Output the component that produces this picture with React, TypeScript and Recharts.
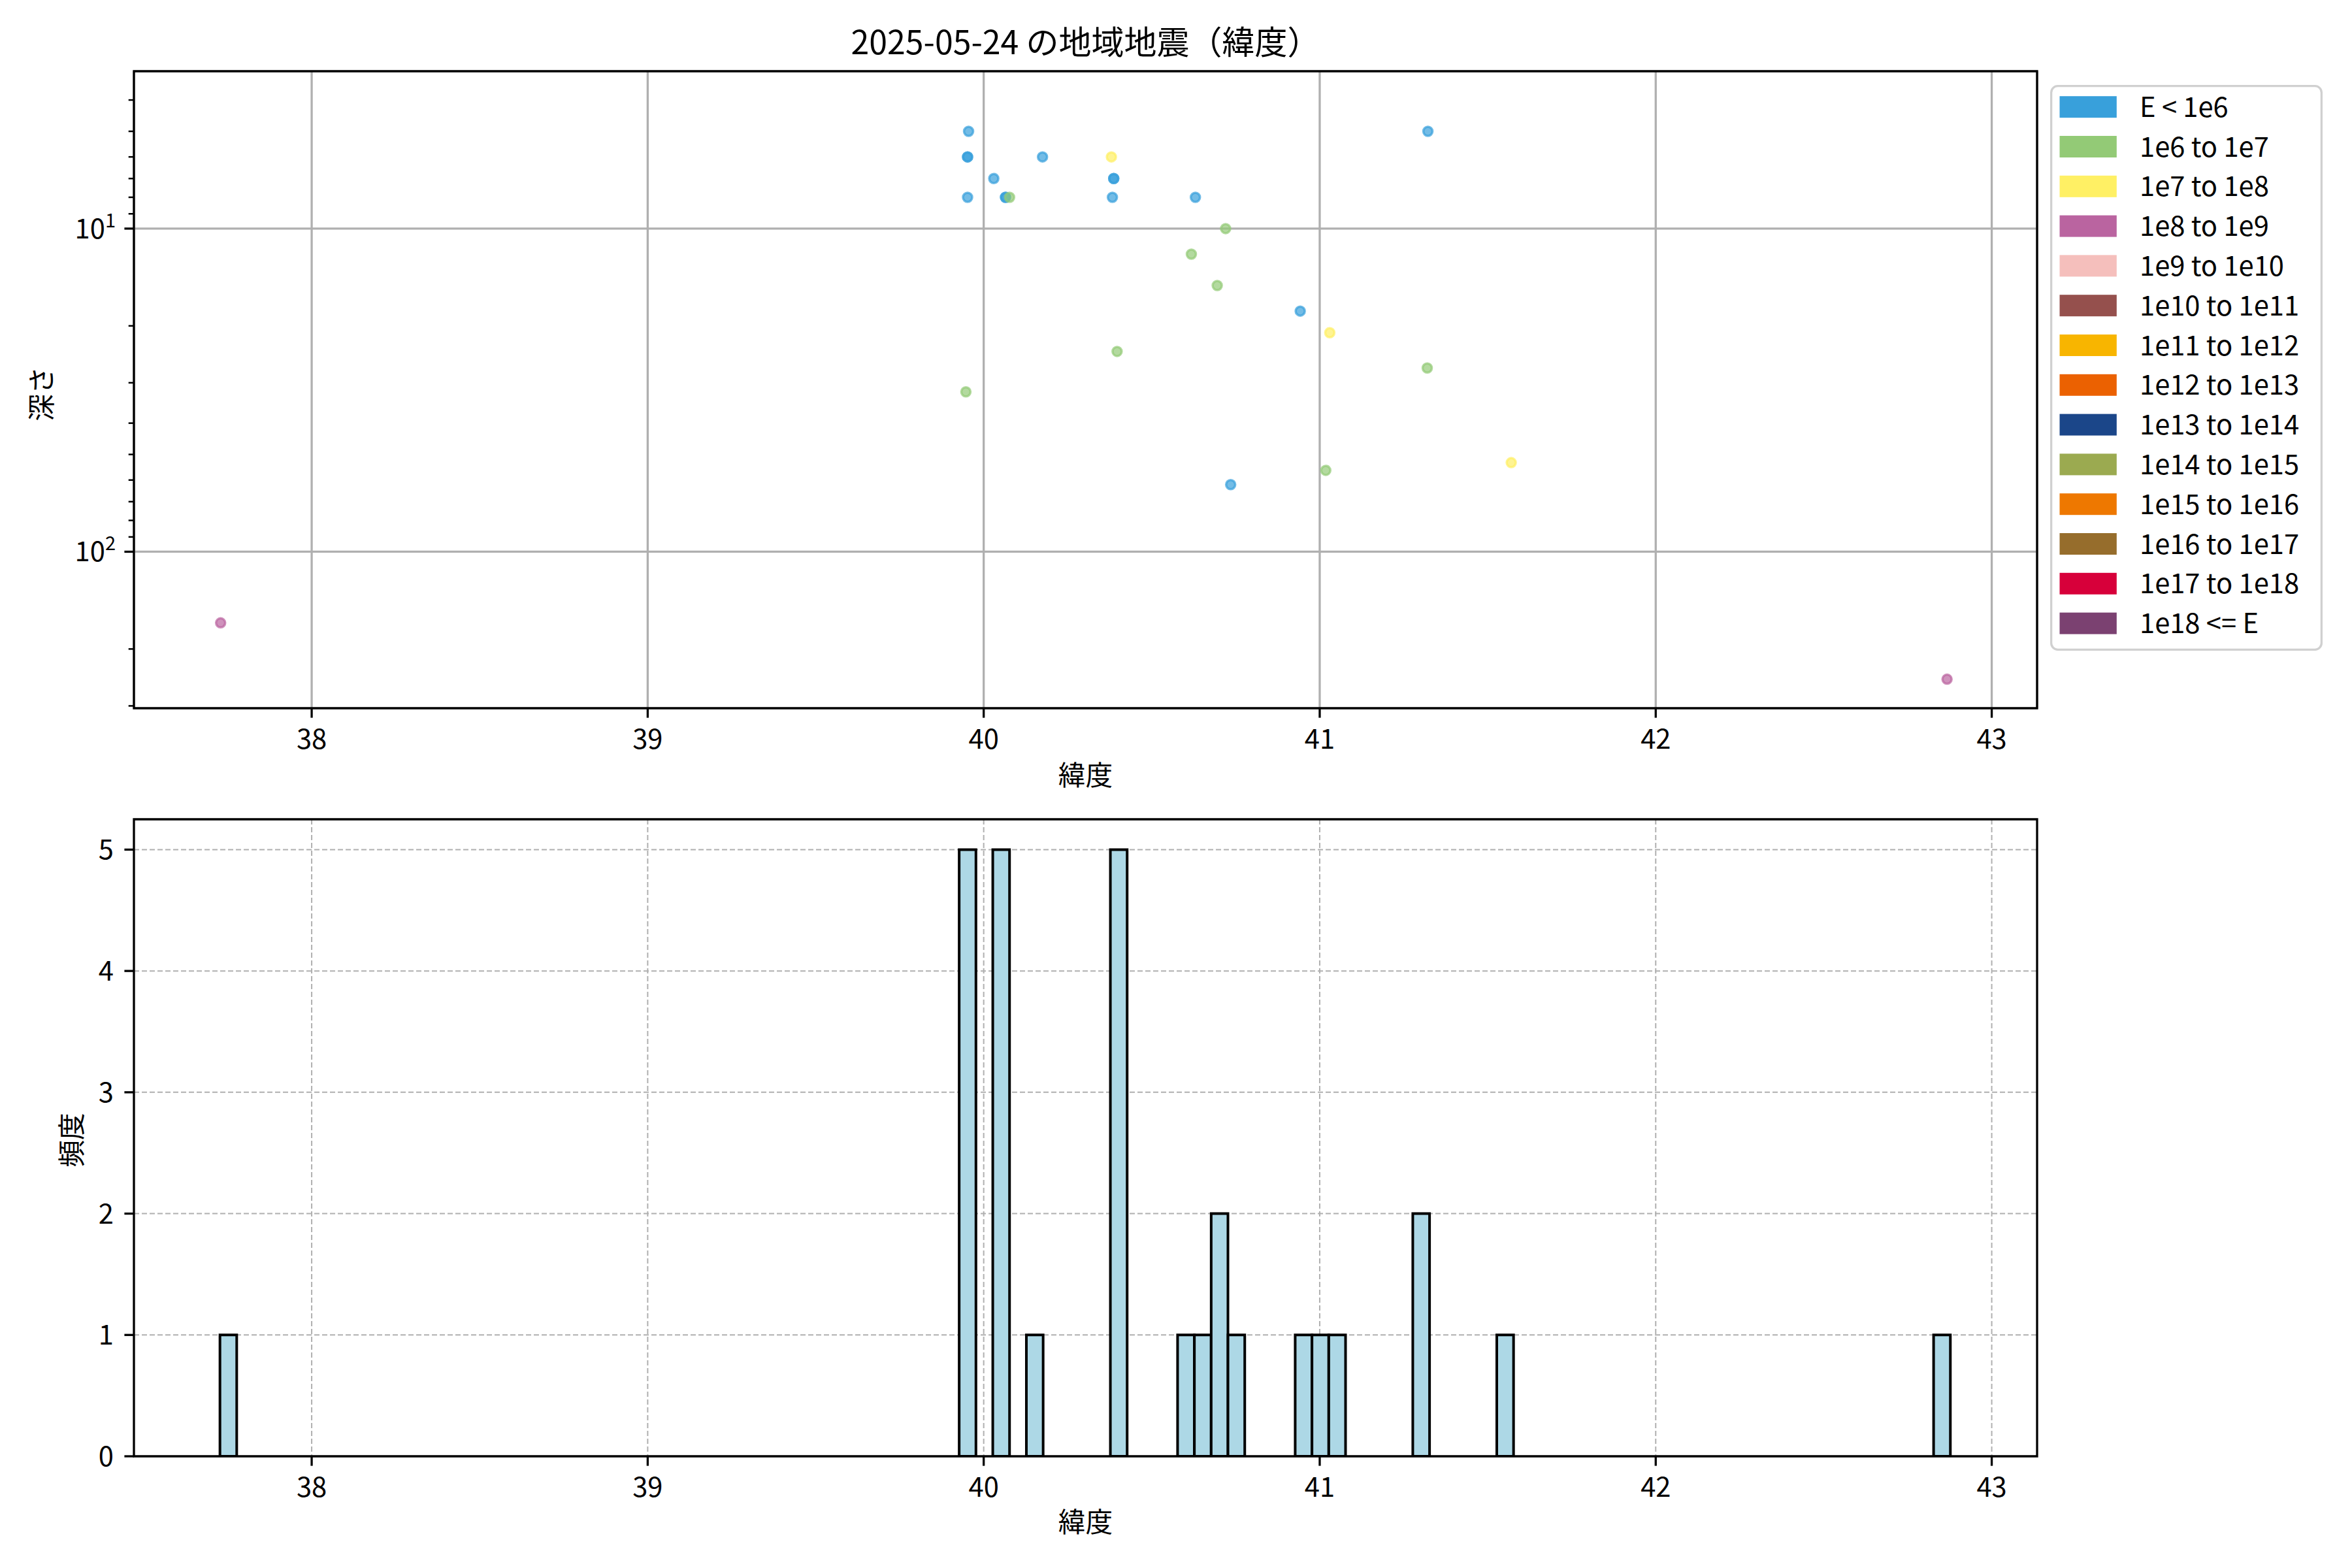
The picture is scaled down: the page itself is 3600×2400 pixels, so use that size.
import {
  Bar,
  BarChart,
  CartesianGrid,
  Legend,
  ReferenceArea,
  Scatter,
  ScatterChart,
  XAxis,
  YAxis,
} from 'recharts'

// エネルギー階級（凡例）
const ENERGY_CLASSES = [
  'E < 1e6',
  '1e6 to 1e7',
  '1e7 to 1e8',
  '1e8 to 1e9',
  '1e9 to 1e10',
  '1e10 to 1e11',
  '1e11 to 1e12',
  '1e12 to 1e13',
  '1e13 to 1e14',
  '1e14 to 1e15',
  '1e15 to 1e16',
  '1e16 to 1e17',
  '1e17 to 1e18',
  '1e18 <= E',
]
const ENERGY_COLORS = [
  '#38a0db',
  '#93ca76',
  '#fff064',
  '#ba64a0',
  '#f5bfbc',
  '#95504d',
  '#f8b500',
  '#eb6101',
  '#1b4689',
  '#9baa50',
  '#ee7800',
  '#966d2c',
  '#d7003a',
  '#7b4171',
]

// 地震ごとの緯度・深さ・エネルギー階級（ENERGY_CLASSES の添字）
const QUAKE_LAT = [
  39.955, 39.952, 39.952, 39.952, 40.03, 40.065, 40.065, 40.175, 40.387, 40.387, 40.383, 40.63, 40.942, 41.322, 40.735,
  40.38, 41.03, 41.57,
  40.077, 40.72, 40.618, 40.695, 40.397, 41.32, 39.947, 41.018,
  37.729, 42.867,
]
const QUAKE_DEPTH = [
  5, 6, 6, 8, 7, 8, 8, 6, 7, 7, 8, 8, 18, 5, 62,
  6, 21, 53,
  8, 10, 12, 15, 24, 27, 32, 56,
  166, 248,
]
const QUAKE_CLASS = [
  0, 0, 0, 0, 0, 0, 0, 0, 0, 0, 0, 0, 0, 0, 0,
  2, 2, 2,
  1, 1, 1, 1, 1, 1, 1, 1,
  3, 3,
]

// 緯度ヒストグラム（幅 0.05 のビン、空でないものだけ）
const HIST_BIN_START = 37.727
const HIST_BIN_WIDTH = 0.05
const HIST_BIN = [0, 44, 46, 48, 53, 57, 58, 59, 60, 64, 65, 66, 71, 76, 102]
const HIST_COUNT = [1, 5, 5, 1, 5, 1, 1, 2, 1, 1, 1, 1, 2, 1, 1]

const LAT_DOMAIN: [number, number] = [37.471, 43.135]
const LAT_TICKS = [38, 39, 40, 41, 42, 43]
const DEPTH_DOMAIN: [number, number] = [3.258, 305]
const DEPTH_TICKS = [4, 5, 6, 7, 8, 9, 10, 20, 30, 40, 50, 60, 70, 80, 90, 100, 200, 300]
const DEPTH_MAJOR = [10, 100]
const COUNT_DOMAIN: [number, number] = [0, 5.25]
const COUNT_TICKS = [0, 1, 2, 3, 4, 5]

const FONT = '"Noto Sans CJK JP", "Noto Sans", sans-serif'
const W = 3600
const PANEL_H = 1200
const TOP_H = 1260
const PLOT_LEFT = 205
const PLOT_RIGHT = 3118
const PLOT_H = 975
const AXIS_H = 116
const TICK_FONT = 41.7
const TICK_LEN = 14.6
const MINOR_LEN = 8.3
const LINE_W = 3.3
const GRID = '#b0b0b0'

const byClass = ENERGY_CLASSES.map((_, c) =>
  QUAKE_LAT.map((lat, i) => ({ lat, depth: QUAKE_DEPTH[i], c: QUAKE_CLASS[i] })).filter((p) => p.c === c),
)

const histData = HIST_BIN.map((b, i) => ({
  center: HIST_BIN_START + (b + 0.5) * HIST_BIN_WIDTH,
  count: HIST_COUNT[i],
}))

const barPx = (HIST_BIN_WIDTH * (PLOT_RIGHT - PLOT_LEFT)) / (LAT_DOMAIN[1] - LAT_DOMAIN[0]) - 0.05

function LatTick({ x, y, payload }: any) {
  return (
    <g>
      <line x1={x} x2={x} y1={y} y2={y + TICK_LEN} stroke="#000" strokeWidth={LINE_W} />
      <text x={x} y={y + 62} textAnchor="middle" fontSize={TICK_FONT} fill="#000">
        {payload.value}
      </text>
    </g>
  )
}

function DepthTick({ x, y, payload }: any) {
  const v = payload.value
  const major = DEPTH_MAJOR.includes(v)
  return (
    <g>
      <line
        x1={x}
        x2={x - (major ? TICK_LEN : MINOR_LEN)}
        y1={y}
        y2={y}
        stroke="#000"
        strokeWidth={major ? LINE_W : 2.5}
      />
      {major && (
        <text x={x - 28} y={y + 15} textAnchor="end" fontSize={TICK_FONT} fill="#000">
          10
          <tspan dy={-17} fontSize={29}>
            {Math.round(Math.log10(v))}
          </tspan>
        </text>
      )}
    </g>
  )
}

function CountTick({ x, y, payload }: any) {
  return (
    <g>
      <line x1={x} x2={x - TICK_LEN} y1={y} y2={y} stroke="#000" strokeWidth={LINE_W} />
      <text x={x - 31} y={y + 15} textAnchor="end" fontSize={TICK_FONT} fill="#000">
        {payload.value}
      </text>
    </g>
  )
}

function EnergyLegend() {
  const rowH = 60.8
  return (
    <svg width={417} height={866} style={{ display: 'block' }}>
      <rect x={1.65} y={1.65} width={413.7} height={862.7} rx={10} fill="#fff" fillOpacity={0.8} stroke="#d0d0d0" strokeWidth={3.3} />
      {ENERGY_CLASSES.map((name, i) => {
        const cy = 33.7 + i * rowH
        return (
          <g key={name}>
            <rect x={14.5} y={cy - 16.5} width={87.3} height={33} fill={ENERGY_COLORS[i]} />
            <text x={137} y={cy + 15} fontSize={TICK_FONT} fill="#000">
              {name}
            </text>
          </g>
        )
      })}
    </svg>
  )
}

export default function App() {
  const plotCenter = (PLOT_LEFT + PLOT_RIGHT) / 2
  return (
    <div
      style={{
        position: 'absolute',
        left: 0,
        top: 0,
        width: W,
        height: 2400,
        background: '#fff',
        fontFamily: FONT,
      }}
    >
      <div style={{ position: 'absolute', left: 0, top: 0 }}>
        <ScatterChart
          width={W}
          height={TOP_H}
          margin={{ top: 109, right: W - PLOT_RIGHT, bottom: TOP_H - 109 - PLOT_H - AXIS_H, left: 0 }}
        >
          {byClass.map((pts, c) => (
            <Scatter
              key={ENERGY_CLASSES[c]}
              name={ENERGY_CLASSES[c]}
              data={pts}
              fill={ENERGY_COLORS[c]}
              isAnimationActive={false}
              shape={(p: any) => (
                <circle
                  cx={p.cx}
                  cy={p.cy}
                  r={7}
                  fill={ENERGY_COLORS[c]}
                  fillOpacity={0.7}
                  stroke={ENERGY_COLORS[c]}
                  strokeOpacity={0.7}
                  strokeWidth={3.5}
                />
              )}
            />
          ))}
          <CartesianGrid stroke={GRID} strokeWidth={LINE_W} horizontalValues={DEPTH_MAJOR} />
          <XAxis
            type="number"
            dataKey="lat"
            domain={LAT_DOMAIN}
            allowDataOverflow
            ticks={LAT_TICKS}
            interval={0}
            height={AXIS_H}
            axisLine={false}
            tickLine={false}
            tickSize={0}
            tickMargin={0}
            tick={<LatTick />}
            label={{ value: '緯度', position: 'center', dy: 45, fontSize: TICK_FONT, fill: '#000' }}
          />
          <YAxis
            type="number"
            dataKey="depth"
            scale="log"
            domain={DEPTH_DOMAIN}
            allowDataOverflow
            reversed
            ticks={DEPTH_TICKS}
            interval={0}
            width={PLOT_LEFT}
            axisLine={false}
            tickLine={false}
            tickSize={0}
            tickMargin={0}
            tick={<DepthTick />}
            label={{ value: '深さ', angle: -90, position: 'center', dx: -38.5, dy: 6.5, fontSize: TICK_FONT, fill: '#000' }}
          />
          <ReferenceArea
            x1={LAT_DOMAIN[0]}
            x2={LAT_DOMAIN[1]}
            y1={DEPTH_DOMAIN[0]}
            y2={DEPTH_DOMAIN[1]}
            ifOverflow="visible"
            fill="none"
            fillOpacity={0}
            stroke="#000"
            strokeWidth={LINE_W}
          />
          <Legend
            layout="vertical"
            align="center"
            verticalAlign="middle"
            wrapperStyle={{ left: 3138, top: 130, width: 417, height: 866 }}
            content={() => <EnergyLegend />}
          />
        </ScatterChart>
      </div>

      <div style={{ position: 'absolute', left: 0, top: PANEL_H }}>
        <BarChart
          width={W}
          height={PANEL_H}
          data={histData}
          margin={{ top: 54, right: W - PLOT_RIGHT, bottom: PANEL_H - 54 - PLOT_H - AXIS_H, left: 0 }}
        >
          <Bar
            dataKey="count"
            fill="#add8e6"
            stroke="#000"
            strokeWidth={4}
            barSize={barPx}
            isAnimationActive={false}
          />
          <CartesianGrid stroke={GRID} strokeWidth={2} strokeDasharray="8 4" />
          <XAxis
            type="number"
            dataKey="center"
            domain={LAT_DOMAIN}
            allowDataOverflow
            ticks={LAT_TICKS}
            interval={0}
            height={AXIS_H}
            axisLine={false}
            tickLine={false}
            tickSize={0}
            tickMargin={0}
            tick={<LatTick />}
            label={{ value: '緯度', position: 'center', dy: 43, fontSize: TICK_FONT, fill: '#000' }}
          />
          <YAxis
            type="number"
            domain={COUNT_DOMAIN}
            allowDataOverflow
            ticks={COUNT_TICKS}
            interval={0}
            width={PLOT_LEFT}
            axisLine={false}
            tickLine={false}
            tickSize={0}
            tickMargin={0}
            tick={<CountTick />}
            label={{ value: '頻度', angle: -90, position: 'center', dx: 7.5, dy: 3.5, fontSize: TICK_FONT, fill: '#000' }}
          />
          <ReferenceArea
            x1={LAT_DOMAIN[0]}
            x2={LAT_DOMAIN[1]}
            y1={COUNT_DOMAIN[0]}
            y2={COUNT_DOMAIN[1]}
            ifOverflow="visible"
            fill="none"
            fillOpacity={0}
            stroke="#000"
            strokeWidth={LINE_W}
          />
        </BarChart>
      </div>

      <svg width={W} height={110} style={{ position: 'absolute', left: 0, top: 0 }}>
        <text x={plotCenter} y={83} textAnchor="middle" fontSize={50} fill="#000" fontFamily={FONT}>
          2025-05-24 の地域地震（緯度）
        </text>
      </svg>
    </div>
  )
}
